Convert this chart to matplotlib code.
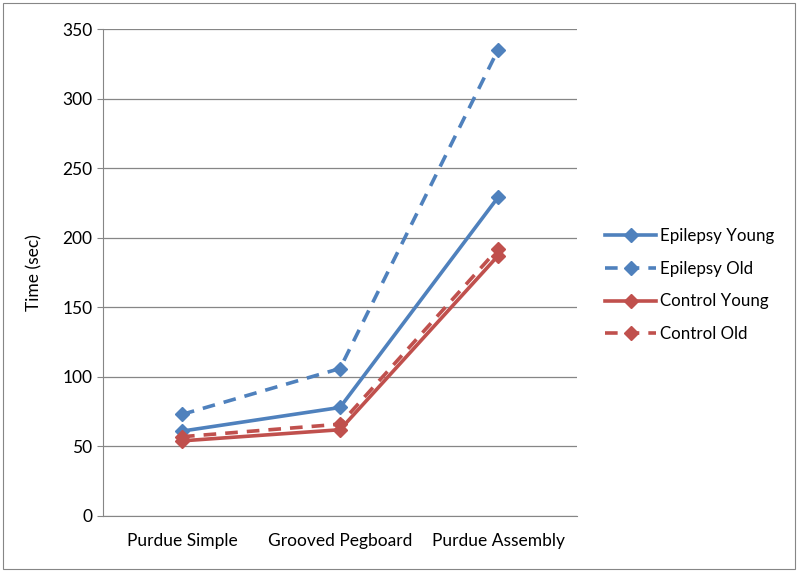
import matplotlib.pyplot as plt
from matplotlib.patches import Rectangle

plt.rcParams['font.family'] = ['Lato', 'DejaVu Sans']

categories = ['Purdue Simple', 'Grooved Pegboard', 'Purdue Assembly']
epilepsy_young = [61, 78, 229]
epilepsy_old = [73, 106, 335]
control_young = [54, 62, 187]
control_old = [57, 66, 192]

blue = '#4F81BD'
red = '#C0504D'

fig = plt.figure(figsize=(8, 5.72), dpi=100)
ax = fig.add_axes([103/800, 1 - 516/572, (577-103)/800, (516-29)/572])

x = range(len(categories))
series = [
    ('Epilepsy Young', epilepsy_young, blue, '-'),
    ('Epilepsy Old', epilepsy_old, blue, (0, (3.5, 2.5))),
    ('Control Young', control_young, red, '-'),
    ('Control Old', control_old, red, (0, (3.5, 2.5))),
]
for name, vals, col, ls in series:
    ax.plot(x, vals, color=col, linestyle=ls, linewidth=2.6, marker='D',
            markersize=7, label=name)

ax.set_xlim(-0.5, 2.5)
ax.set_ylim(0, 350)
ax.set_yticks(range(0, 351, 50))
ax.set_xticks(list(x))
ax.set_xticklabels(categories, fontsize=12.5)
ax.tick_params(axis='y', labelsize=12.5, length=4, color='#868686')
ax.tick_params(axis='x', length=0, pad=12)
ax.set_ylabel('Time (sec)', fontsize=12.5, labelpad=14)
ax.grid(axis='y', color='#868686', linewidth=0.9)
ax.set_axisbelow(True)
for s in ['top', 'right']:
    ax.spines[s].set_visible(False)
for s in ['left', 'bottom']:
    ax.spines[s].set_color('#868686')

leg = fig.legend(loc='center left', bbox_to_anchor=(590/800, 1 - 285/572),
                 frameon=False, fontsize=12.2, handlelength=3.0,
                 labelspacing=1.0, handletextpad=0.25)

fig.patches.append(Rectangle((0.004, 0.005), 0.99, 0.99, transform=fig.transFigure,
                             fill=False, edgecolor='#868686', linewidth=0.8))

fig.savefig('out.png', dpi=100)
